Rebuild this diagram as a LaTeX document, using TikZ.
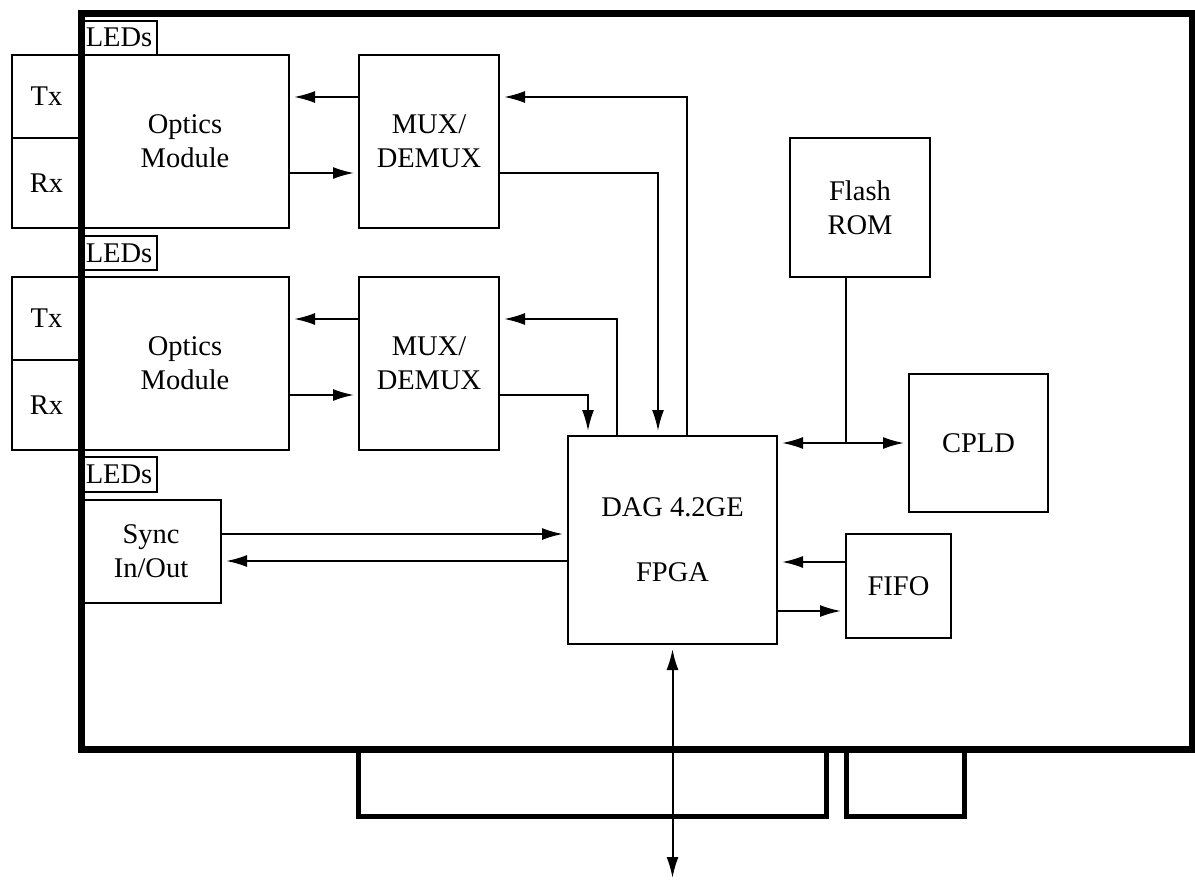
\documentclass[tikz,border=0pt]{standalone}
\usepackage{fontspec}
\setmainfont{Liberation Serif}
\usetikzlibrary{arrows.meta}

\begin{document}
\begin{tikzpicture}[
    x=1pt, y=-1pt,
    blk/.style={draw, line width=2pt, inner sep=0pt, align=center,
        font=\fontsize{28.5}{34}\selectfont},
    wire/.style={line width=2pt},
    arr/.style={wire, -{Latex[length=21pt, width=12pt]}, shorten >=4pt},
    dbl/.style={wire, {Latex[length=21pt, width=12pt]}-{Latex[length=21pt, width=12pt]},
        shorten >=4pt, shorten <=4pt},
    board/.style={line width=7pt},
    tab/.style={line width=5pt}
]
    \useasboundingbox (0,0) rectangle (1195,881);

    % --- Main chips ---
    \node[blk, minimum width=209, minimum height=208] (fpga) at (672.5, 540) {DAG 4.2GE\\[31pt]FPGA};
    \node[blk, minimum width=140, minimum height=139] (flash) at (860, 207.5) {Flash\\ROM};
    \node[blk, minimum width=139, minimum height=138] (cpld) at (978.5, 443) {CPLD};
    \node[blk, minimum width=105, minimum height=104] (fifo) at (898.5, 586) {FIFO};

    % --- Optics channels ---
    \foreach \i/\dy/\ly/\xin/\xout in {1/0/37.5/687/658, 2/222/253/617/588} {
        \node[blk, minimum width=69, minimum height=83] (tx\i) at (46.5, 96.5+\dy) {Tx};
        \node[blk, minimum width=69, minimum height=90] (rx\i) at (46.5, 183+\dy) {Rx};
        \node[blk, minimum width=76, minimum height=34] (leds\i) at (119, \ly) {LEDs};
        \node[blk, minimum width=208, minimum height=173] (opt\i) at (185, 141.5+\dy) {Optics\\Module};
        \node[blk, minimum width=140, minimum height=173] (mux\i) at (429, 141+\dy) {MUX/\\DEMUX};

        \coordinate (ytop\i) at (0, 97+\dy);
        \coordinate (ybot\i) at (0, 173+\dy);
        \coordinate (in\i) at (\xin, 0);
        \coordinate (out\i) at (\xout, 0);

        \draw[arr] (mux\i.west |- ytop\i) -- (opt\i.east |- ytop\i);
        \draw[arr] (opt\i.east |- ybot\i) -- (mux\i.west |- ybot\i);
        \draw[arr] (fpga.north -| in\i) |- (mux\i.east |- ytop\i);
        \draw[arr] (mux\i.east |- ybot\i) -| (fpga.north -| out\i);
    }

    % --- Sync port ---
    \node[blk, minimum width=76, minimum height=35] (leds3) at (119, 474.5) {LEDs};
    \node[blk, minimum width=140, minimum height=103] (sync) at (151, 551.5) {Sync\\In/Out};
    \coordinate (s1) at (0, 534);
    \coordinate (s2) at (0, 561);
    \draw[arr] (sync.east |- s1) -- (fpga.west |- s1);
    \draw[arr] (fpga.west |- s2) -- (sync.east |- s2);

    % --- Flash, CPLD and FIFO links ---
    \coordinate (jn) at (846, 443);
    \draw[wire] (flash.south -| jn) -- (jn);
    \draw[dbl] (fpga.east |- jn) -- (cpld.west |- jn);
    \coordinate (f1) at (0, 562);
    \coordinate (f2) at (0, 611);
    \draw[arr] (fifo.west |- f1) -- (fpga.east |- f1);
    \draw[arr] (fpga.east |- f2) -- (fifo.west |- f2);

    % --- Board outline and bus ---
    \draw[board] (81, 13) rectangle (1192, 749);
    \draw[tab] (358, 749) -- (358, 816) -- (826, 816) -- (826, 749);
    \draw[tab] (846, 749) -- (846, 816) -- (964, 816) -- (964, 749);
    \coordinate (bus) at (672.5, 882);
    \draw[dbl] (fpga.south) -- (bus);
\end{tikzpicture}
\end{document}
